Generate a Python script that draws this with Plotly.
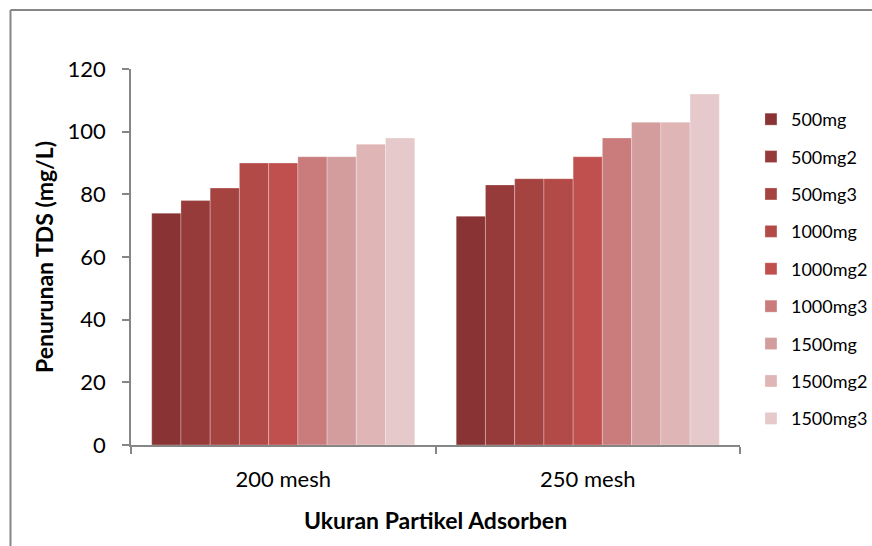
import plotly.graph_objects as go

categories = ["200 mesh", "250 mesh"]
series_names = ["500mg", "500mg2", "500mg3", "1000mg", "1000mg2", "1000mg3",
                "1500mg", "1500mg2", "1500mg3"]
values_200 = [74, 78, 82, 90, 90, 92, 92, 96, 98]
values_250 = [73, 83, 85, 85, 92, 98, 103, 103, 112]
colors = ["#893335", "#963b3a", "#a54341", "#b24b48", "#c0504d",
          "#ca7c7c", "#d49d9d", "#dfb5b5", "#e6c9ca"]
y_ticks = [0, 20, 40, 60, 80, 100, 120]

FONT = "Lato, Carlito, Calibri, sans-serif"
AX = "#868686"

fig = go.Figure()
for i, name in enumerate(series_names):
    fig.add_trace(go.Bar(
        name=name, x=categories, y=[values_200[i], values_250[i]],
        marker=dict(color=colors[i], line=dict(color="rgba(255,255,255,0.35)", width=0.8)),
        legendgroup=name,
    ))

fig.update_layout(
    width=872, height=546,
    margin=dict(l=131, r=132, t=69, b=101, autoexpand=False),
    paper_bgcolor="white", plot_bgcolor="white",
    barmode="group", bargap=0.136, bargroupgap=0,
    font=dict(family=FONT, color="#000000", size=22),
    legend=dict(x=1.018, xanchor="left", y=0.915, yanchor="top",
                font=dict(size=18, family=FONT), tracegroupgap=11,
                itemwidth=30, bgcolor="rgba(0,0,0,0)"),
    showlegend=True,
)
fig.update_xaxes(
    showline=True, linecolor=AX, linewidth=1.5, ticks="outside", tickson="boundaries",
    ticklen=7, tickcolor=AX, tickwidth=1.5, showgrid=False,
    tickfont=dict(size=22, family=FONT), ticklabelstandoff=14,
    title=dict(text="<b>Ukuran Partikel Adsorben</b>", font=dict(size=23, family=FONT), standoff=22),
)
fig.update_yaxes(
    range=[0, 120], tickvals=y_ticks, showline=True, linecolor=AX, linewidth=1.5,
    ticks="outside", ticklen=7, tickcolor=AX, tickwidth=1.5, showgrid=False,
    tickfont=dict(size=22, family=FONT), ticklabelstandoff=12,
    title=dict(text="<b>Penurunan TDS (mg/L)</b>", font=dict(size=23, family=FONT), standoff=8),
    zeroline=False,
)
# chart-area border: only top and left edges are visible in the picture
bx = (10.5 - 131) / 609
by = (445 - 10) / 376
fig.add_shape(type="line", xref="paper", yref="paper", x0=bx, x1=2.0, y0=by, y1=by,
              line=dict(color=AX, width=2), layer="below")
fig.add_shape(type="line", xref="paper", yref="paper", x0=bx, x1=bx, y0=by, y1=-1.0,
              line=dict(color=AX, width=2), layer="below")

fig.write_html("out.html")
